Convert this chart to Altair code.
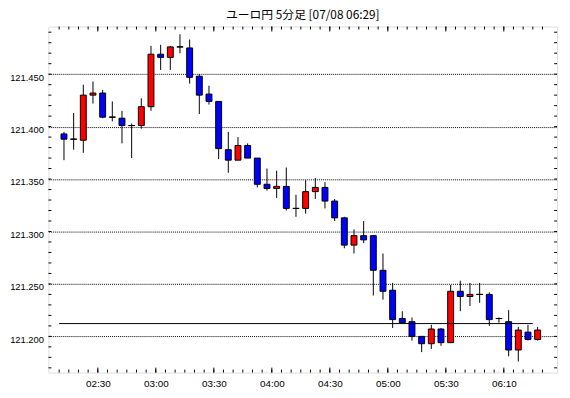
import altair as alt
import numpy as np
import pandas as pd

# 5-minute candles (index 0 .. 49)
opens = [121.393, 121.388, 121.387, 121.430, 121.432, 121.409, 121.408, 121.401, 121.401, 121.419,
         121.469, 121.466, 121.476, 121.475, 121.448, 121.431, 121.424, 121.378, 121.368, 121.382,
         121.370, 121.345, 121.341, 121.343, 121.322, 121.322, 121.338, 121.342, 121.329, 121.313,
         121.287, 121.296, 121.296, 121.263, 121.244, 121.217, 121.214, 121.200, 121.193, 121.207,
         121.194, 121.243, 121.238, 121.240, 121.240, 121.217, 121.214, 121.187, 121.204, 121.197]
highs = [121.395, 121.413, 121.440, 121.443, 121.435, 121.424, 121.415, 121.403, 121.427, 121.477,
         121.478, 121.477, 121.488, 121.483, 121.450, 121.439, 121.424, 121.395, 121.390, 121.384,
         121.370, 121.360, 121.358, 121.361, 121.335, 121.349, 121.351, 121.347, 121.331, 121.314,
         121.302, 121.310, 121.296, 121.279, 121.251, 121.224, 121.218, 121.200, 121.211, 121.208,
         121.249, 121.253, 121.251, 121.251, 121.242, 121.218, 121.225, 121.209, 121.211, 121.209]
lows = [121.368, 121.378, 121.375, 121.422, 121.408, 121.405, 121.384, 121.370, 121.398, 121.415,
        121.454, 121.454, 121.470, 121.441, 121.412, 121.421, 121.369, 121.356, 121.368, 121.370,
        121.342, 121.339, 121.332, 121.320, 121.314, 121.317, 121.331, 121.322, 121.310, 121.284,
        121.279, 121.289, 121.239, 121.235, 121.208, 121.212, 121.196, 121.185, 121.188, 121.191,
        121.194, 121.224, 121.229, 121.232, 121.210, 121.213, 121.181, 121.176, 121.196, 121.196]
closes = [121.388, 121.388, 121.430, 121.432, 121.409, 121.409, 121.401, 121.401, 121.419, 121.469,
          121.466, 121.476, 121.476, 121.447, 121.430, 121.424, 121.379, 121.368, 121.382, 121.370,
          121.345, 121.341, 121.343, 121.322, 121.322, 121.338, 121.342, 121.329, 121.313, 121.287,
          121.296, 121.292, 121.263, 121.243, 121.216, 121.213, 121.200, 121.193, 121.207, 121.194,
          121.243, 121.238, 121.240, 121.240, 121.216, 121.217, 121.187, 121.206, 121.197, 121.206]

x_tick_labels = ["02:30", "03:00", "03:30", "04:00", "04:30", "05:00", "05:30", "06:10"]
x_tick_pos = [3.5, 9.5, 15.5, 21.5, 27.5, 33.5, 39.5, 45.5]
y_grid = [121.20, 121.25, 121.30, 121.35, 121.40, 121.45]
ref_level = 121.2122
ref_from, ref_to = -0.5, 48.5

W, H = 516, 351
XD = [-1.1, 50.5]
YD = [121.1655, 121.4954]

df = pd.DataFrame({"i": list(range(len(opens))), "o": opens, "h": highs, "l": lows, "c": closes})
df["dir"] = np.where(df.c > df.o, "up", np.where(df.c < df.o, "down", "flat"))

xs = alt.Scale(domain=XD, nice=False, zero=False)
ys = alt.Scale(domain=YD, nice=False, zero=False)

label_arr = "[" + ",".join("'%s'" % s for s in x_tick_labels) + "]"
x_axis = alt.Axis(values=x_tick_pos, labelExpr=label_arr + "[round((datum.value-3.5)/6)]",
                  grid=False, domain=False, ticks=False, labelFontSize=10, labelFont="Liberation Sans",
                  labelPadding=6, labelColor="black", title=None, labelFlush=False, labelOverlap=False)
y_axis = alt.Axis(values=y_grid, format=".3f", grid=True, gridDash=[1, 1], gridColor="black",
                  gridOpacity=1, gridWidth=1, domain=False, ticks=False, labelFontSize=9.5,
                  labelFont="Liberation Sans", labelPadding=5, labelColor="black", labelBaseline="middle",
                  labelOffset=3, title=None)

base = alt.Chart(df)
wick = base.mark_rule(color="black", strokeWidth=1).encode(
    x=alt.X("i:Q", scale=xs, axis=x_axis),
    y=alt.Y("l:Q", scale=ys, axis=y_axis),
    y2="h:Q",
)
body = base.mark_bar(size=6, stroke="black", strokeWidth=1).encode(
    x=alt.X("i:Q", scale=xs),
    y=alt.Y("o:Q", scale=ys),
    y2="c:Q",
    color=alt.Color("dir:N", scale=alt.Scale(domain=["up", "down", "flat"],
                                             range=["#ff0000", "#0000ff", "#000000"]), legend=None),
)
doji = alt.Chart(df[df.dir == "flat"]).mark_tick(orient="horizontal", size=7, thickness=1, color="black").encode(
    x=alt.X("i:Q", scale=xs), y=alt.Y("o:Q", scale=ys)
)
ref = alt.Chart(pd.DataFrame({"a": [ref_from], "b": [ref_to], "v": [ref_level]})).mark_rule(
    color="black", strokeWidth=1).encode(x=alt.X("a:Q", scale=xs), x2="b:Q", y=alt.Y("v:Q", scale=ys))

# inward tick marks around the frame
xt = pd.DataFrame({"p": [k - 0.5 for k in range(51)]})
xm = pd.DataFrame({"p": x_tick_pos})
yt = pd.DataFrame({"v": [round(121.17 + 0.01 * k, 2) for k in range(33)]})
tk = dict(color="black", strokeWidth=1)
bot_minor = alt.Chart(xt).mark_rule(**tk).encode(x=alt.X("p:Q", scale=xs), y=alt.value(H), y2=alt.value(H - 3))
bot_major = alt.Chart(xm).mark_rule(**tk).encode(x=alt.X("p:Q", scale=xs), y=alt.value(H), y2=alt.value(H - 5))
top_minor = alt.Chart(xt).mark_rule(**tk).encode(x=alt.X("p:Q", scale=xs), y=alt.value(0), y2=alt.value(3))
top_major = alt.Chart(xm).mark_rule(**tk).encode(x=alt.X("p:Q", scale=xs), y=alt.value(0), y2=alt.value(5))
left_t = alt.Chart(yt).mark_rule(**tk).encode(y=alt.Y("v:Q", scale=ys), x=alt.value(0), x2=alt.value(3))
right_t = alt.Chart(yt).mark_rule(**tk).encode(y=alt.Y("v:Q", scale=ys), x=alt.value(W - 3), x2=alt.value(W))

chart = alt.layer(
    wick, body, doji, ref, bot_minor, bot_major, top_minor, top_major, left_t, right_t
).properties(
    width=W, height=H,
    title=alt.TitleParams("ユーロ円 5分足 [07/08 06:29]", font="Noto Sans CJK JP", fontSize=12,
                          fontWeight="normal", anchor="middle", frame="group", offset=4, color="black"),
    autosize=alt.AutoSizeParams(type="none"),
    padding={"left": 41, "top": 16, "right": 5, "bottom": 23},
).configure_view(stroke="black", strokeWidth=1).configure(background="white")

chart.save("out.html", embed_options={"renderer": "svg", "actions": False})
